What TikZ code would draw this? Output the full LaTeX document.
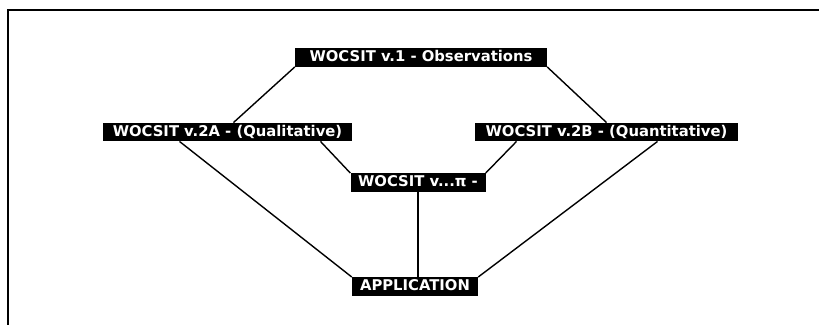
\documentclass[tikz,border=0pt]{standalone}
\usepackage{fontspec}
\setmainfont{DejaVu Sans}
\begin{document}
\begin{tikzpicture}[x=1pt,y=1pt,
  box/.style={fill=black,text=white,inner xsep=0pt,inner ysep=2pt,
    text height=11.5pt,text depth=3pt,font=\bfseries\fontsize{14.8}{16}\selectfont},
  link/.style={line width=1.4pt}]
\useasboundingbox (0,0) rectangle (819,328);
\fill[white] (0,0) rectangle (819,328);
\draw[line width=1.6pt] (8,3) -- (8,318) -- (819,318);
\node[box,minimum width=252pt] (obs) at (421,270.5) {WOCSIT v.1 - Observations};
\node[box,minimum width=249pt] (qa) at (227.5,196) {WOCSIT v.2A - (Qualitative)};
\node[box,minimum width=263pt] (qb) at (606.5,196) {WOCSIT v.2B - (Quantitative)};
\node[box,minimum width=135pt] (pi) at (418,145.5) {WOCSIT v...π -};
\node[box,minimum width=126pt] (app) at (415,41.5) {APPLICATION};
\draw[link] (obs.south west) -- ([xshift=6pt]qa.north);
\draw[link] (obs.south east) -- ([xshift=0pt]qb.north);
\draw[link] ([xshift=-48pt]qa.south) -- (app.north west);
\draw[link] ([xshift=93pt]qa.south) -- (pi.north west);
\draw[link] ([xshift=-90pt]qb.south) -- (pi.north east);
\draw[link] ([xshift=51pt]qb.south) -- (app.north east);
\draw[link] (pi.south) -- (pi.south |- app.north);
\end{tikzpicture}
\end{document}
